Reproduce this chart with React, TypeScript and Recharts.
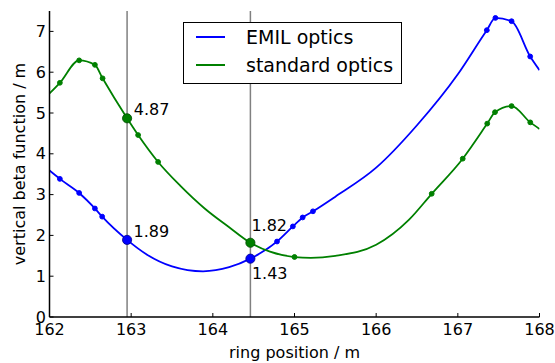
import {
  ComposedChart,
  Line,
  Scatter,
  XAxis,
  YAxis,
  ReferenceLine,
  Legend,
} from "recharts";

const FONT = "DejaVu Sans, sans-serif";

// EMIL optics (blue) - curve samples
const emilPos = [
  162.0, 162.127, 162.363, 162.556, 162.645, 162.95, 163.2, 163.5, 163.88,
  164.2, 164.46, 164.786, 164.98, 165.1, 165.226, 165.5, 166.0, 166.5, 167.0,
  167.355, 167.46, 167.658, 167.886, 168.0,
];
const emilBeta = [
  3.59, 3.385, 3.04, 2.66, 2.46, 1.89, 1.52, 1.24, 1.12, 1.22, 1.43, 1.85,
  2.22, 2.44, 2.59, 2.95, 3.66, 4.7, 5.95, 7.03, 7.33, 7.25, 6.385, 6.05,
];
const emilMarkPos = [
  162.127, 162.363, 162.556, 162.645, 164.786, 164.98, 165.1, 165.226,
  167.355, 167.46, 167.658, 167.886,
];
const emilMarkBeta = [
  3.385, 3.04, 2.66, 2.46, 1.85, 2.22, 2.44, 2.59, 7.03, 7.33, 7.25, 6.385,
];

// standard optics (green)
const stdPos = [
  162.0, 162.127, 162.363, 162.556, 162.65, 162.95, 163.085, 163.33, 163.6,
  163.9, 164.2, 164.46, 164.7, 165.0, 165.2, 165.5, 166.0, 166.4, 166.68,
  167.06, 167.36, 167.455, 167.658, 167.887, 168.0,
];
const stdBeta = [
  5.48, 5.74, 6.29, 6.18, 5.85, 4.87, 4.46, 3.8, 3.22, 2.66, 2.2, 1.82, 1.6,
  1.47, 1.45, 1.5, 1.77, 2.38, 3.02, 3.88, 4.74, 5.02, 5.17, 4.77, 4.61,
];
const stdMarkPos = [
  162.127, 162.363, 162.556, 162.65, 163.085, 163.33, 165.0, 166.68, 167.06,
  167.36, 167.455, 167.658, 167.887,
];
const stdMarkBeta = [
  5.74, 6.29, 6.18, 5.85, 4.46, 3.8, 1.47, 3.02, 3.88, 4.74, 5.02, 5.17, 4.77,
];

// probe positions (vertical lines) and annotated values
const probePos = [162.95, 164.46];
const emilProbe = [1.89, 1.43];
const stdProbe = [4.87, 1.82];

const xTicks = [162, 163, 164, 165, 166, 167, 168];
const yTicks = [0, 1, 2, 3, 4, 5, 6, 7];

const toPoints = (xs: number[], ys: number[]) =>
  xs.map((pos, i) => ({ pos, beta: ys[i] }));

const BLUE = "#0000ff";
const GREEN = "#008000";

// label offsets for the annotated points, per series
const emilLabelOffset = [
  { dx: 6.5, dy: -8.6 },
  { dx: 1.5, dy: 14.5 },
];
const stdLabelOffset = [
  { dx: 6.7, dy: -9 },
  { dx: 1, dy: -17.7 },
];

function smallDot(color: string) {
  return (props: any) => (
    <circle cx={props.cx} cy={props.cy} r={2.4} fill={color} stroke={color} />
  );
}

function bigDot(color: string, edge: string, offsets: { dx: number; dy: number }[]) {
  return (props: any) => {
    const i = props.index ?? 0;
    const off = offsets[i] || { dx: 6, dy: -9 };
    return (
      <g>
        <circle
          cx={props.cx}
          cy={props.cy}
          r={4.6}
          fill={color}
          stroke={edge}
          strokeWidth={0.8}
        />
        <text
          x={props.cx + off.dx}
          y={props.cy + off.dy}
          dominantBaseline="central"
          fontSize={16}
          fontFamily={FONT}
          fill="#000"
        >
          {props.payload.beta.toFixed(2)}
        </text>
      </g>
    );
  };
}

function LegendBox({ payload }: any) {
  const items = (payload || []).filter((p: any) => p.type !== "none");
  return (
    <div
      style={{
        boxSizing: "border-box",
        width: 219,
        height: 62,
        border: "1.5px solid #000",
        background: "#fff",
        fontFamily: FONT,
        fontSize: 19,
        color: "#000",
      }}
    >
      {items.map((item: any) => (
        <div
          key={item.value}
          style={{ display: "flex", alignItems: "center", height: 28 }}
        >
          <span
            style={{
              display: "inline-block",
              width: 29,
              borderTop: `2px solid ${item.color}`,
              marginLeft: 12,
              marginRight: 21,
            }}
          />
          <span>{item.value}</span>
        </div>
      ))}
    </div>
  );
}

export default function App() {
  const emilCurve = toPoints(emilPos, emilBeta);
  const stdCurve = toPoints(stdPos, stdBeta);
  const emilMarks = toPoints(emilMarkPos, emilMarkBeta);
  const stdMarks = toPoints(stdMarkPos, stdMarkBeta);
  const emilProbePts = toPoints(probePos, emilProbe);
  const stdProbePts = toPoints(probePos, stdProbe);

  const tickStyle = { fontSize: 16, fill: "#000", fontFamily: FONT };
  const axisLine = { stroke: "#000", strokeWidth: 1.5 };
  const tickLine = { stroke: "#000", strokeWidth: 1 };

  return (
    <div style={{ position: "absolute", left: 0, top: 0, background: "#fff" }}>
      <ComposedChart
        width={555}
        height={363}
        margin={{ top: 11, right: 15.5, bottom: 0, left: 0 }}
      >
        <XAxis
          dataKey="pos"
          type="number"
          domain={[162, 168]}
          ticks={xTicks}
          allowDataOverflow
          height={46}
          tickSize={-4}
          tickMargin={11}
          tick={tickStyle}
          axisLine={axisLine}
          tickLine={tickLine}
          label={{
            value: "ring position / m",
            position: "insideBottom",
            offset: 5,
            fontSize: 16,
            fill: "#000",
            fontFamily: FONT,
          }}
        />
        <XAxis
          xAxisId="top"
          orientation="top"
          type="number"
          domain={[162, 168]}
          ticks={xTicks}
          allowDataOverflow
          height={0}
          tickSize={-4}
          tick={false}
          axisLine={axisLine}
          tickLine={tickLine}
        />
        <YAxis
          type="number"
          domain={[0, 7.5]}
          ticks={yTicks}
          allowDataOverflow
          width={49.5}
          tickSize={-4}
          tickMargin={7.5}
          tick={tickStyle}
          axisLine={axisLine}
          tickLine={tickLine}
          label={{
            value: "vertical beta function / m",
            angle: -90,
            position: "insideLeft",
            offset: 19,
            style: { textAnchor: "middle" },
            fontSize: 16,
            fill: "#000",
            fontFamily: FONT,
          }}
        />
        <YAxis
          yAxisId="right"
          orientation="right"
          type="number"
          domain={[0, 7.5]}
          ticks={yTicks}
          allowDataOverflow
          width={0}
          tickSize={-4}
          tick={false}
          axisLine={axisLine}
          tickLine={tickLine}
        />
        {probePos.map((p) => (
          <ReferenceLine key={p} x={p} stroke="#808080" strokeWidth={1.5} />
        ))}
        <Line
          data={emilCurve}
          dataKey="beta"
          name="EMIL optics"
          type="monotone"
          stroke={BLUE}
          strokeWidth={1.8}
          dot={false}
          activeDot={false}
          isAnimationActive={false}
        />
        <Line
          data={stdCurve}
          dataKey="beta"
          name="standard optics"
          type="monotone"
          stroke={GREEN}
          strokeWidth={1.8}
          dot={false}
          activeDot={false}
          isAnimationActive={false}
        />
        <Scatter
          data={emilMarks}
          dataKey="beta"
          legendType="none"
          shape={smallDot(BLUE)}
          isAnimationActive={false}
        />
        <Scatter
          data={stdMarks}
          dataKey="beta"
          legendType="none"
          shape={smallDot(GREEN)}
          isAnimationActive={false}
        />
        <Scatter
          data={emilProbePts}
          dataKey="beta"
          legendType="none"
          shape={bigDot(BLUE, "#00008b", emilLabelOffset)}
          isAnimationActive={false}
        />
        <Scatter
          data={stdProbePts}
          dataKey="beta"
          legendType="none"
          shape={bigDot(GREEN, "#004d00", stdLabelOffset)}
          isAnimationActive={false}
        />
        <Legend
          verticalAlign="middle"
          align="center"
          layout="horizontal"
          content={<LegendBox />}
          wrapperStyle={{ left: 183, top: 22, width: 219, height: 62 }}
        />
      </ComposedChart>
    </div>
  );
}
